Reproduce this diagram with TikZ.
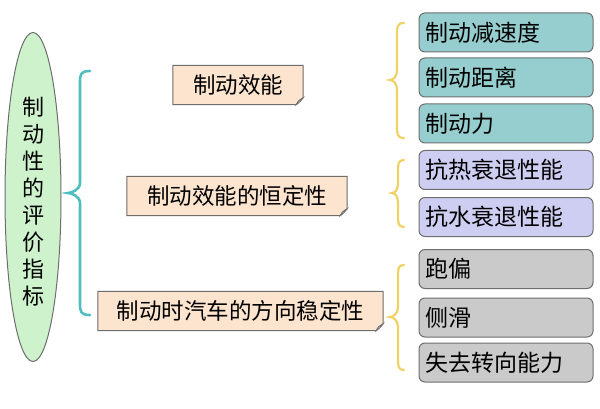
\documentclass[tikz,border=0pt]{standalone}
\usepackage{fontspec}
\setmainfont{Noto Sans CJK SC}
\usetikzlibrary{shapes.geometric}
\definecolor{peach}{RGB}{252,228,206}
\definecolor{tealbox}{RGB}{150,206,208}
\definecolor{lavbox}{RGB}{206,206,242}
\definecolor{graybox}{RGB}{202,202,202}
\definecolor{greenell}{RGB}{206,242,204}
\definecolor{tealbrace}{RGB}{80,190,190}
\definecolor{yelbrace}{RGB}{240,210,100}
\definecolor{edgegray}{RGB}{110,110,110}
\tikzset{
  rbox/.style={draw=edgegray, line width=1pt, rounded corners=6pt, minimum width=174pt, minimum height=39pt,
    text width=162pt, align=left, inner xsep=6pt, font=\fontsize{23}{26}\selectfont},
  lbox/.style={minimum height=39pt, inner sep=0pt, font=\fontsize{22.5}{26}\selectfont},
  lshape/.style={fill=peach, draw=edgegray, line width=1pt},
  bracetl/.style={draw=tealbrace, line width=2.6pt, line cap=round},
  braceyl/.style={draw=yelbrace, line width=2.2pt, line cap=round}
}
\newcommand{\curlybr}[7]{% style, xr, xm, xl, ytop, ymid, ybot
  \draw[#1] (#2,#5) .. controls (#3,#5) and (#3,#5+4) .. (#3,#5+12)
    -- (#3,#6-10) .. controls (#3,#6-3) and (#4+3,#6) .. (#4,#6)
    .. controls (#4+3,#6) and (#3,#6+3) .. (#3,#6+10)
    -- (#3,#7-12) .. controls (#3,#7-4) and (#3,#7) .. (#2,#7);}
\newcommand{\foldbox}[1]{%
  \draw[lshape] (#1.north west) -- (#1.north east) -- ([yshift=7pt]#1.south east)
     -- ([xshift=-7pt]#1.south east) -- (#1.south west) -- cycle;
  \draw[edgegray, line width=0.8pt, fill=peach!70!gray] ([yshift=7pt]#1.south east) .. controls ([xshift=-4pt,yshift=2pt]#1.south east) .. ([xshift=-7pt]#1.south east) .. controls ([xshift=-5pt,yshift=4pt]#1.south east) .. cycle;}
\begin{document}
\begin{tikzpicture}[x=1pt,y=-1pt]
\useasboundingbox[fill=white] (0,0) rectangle (600,409);
% ellipse
\node[ellipse, draw=edgegray, line width=1pt, fill=greenell, minimum width=56pt, minimum height=329pt, inner sep=0pt] (root) at (33,197) {};
\node[align=center, font=\fontsize{22}{27}\selectfont, inner sep=0pt] (roottext) at (33,202) {制\\动\\性\\的\\评\\价\\指\\标};
% teal brace
\curlybr{bracetl}{90}{80}{68}{71}{193}{315}
% left boxes
\node[lbox, minimum width=130pt] (b1) at (238,85) {};
\node[lbox, minimum width=220pt] (b2) at (237,196) {};
\node[lbox, minimum width=285pt] (b3) at (240.5,311) {};
\foldbox{b1}\foldbox{b2}\foldbox{b3}
\node[lbox] (t1) at (b1) {制动效能};
\node[lbox] (t2) at (b2) {制动效能的恒定性};
\node[lbox] (t3) at (b3) {制动时汽车的方向稳定性};
% yellow braces
\curlybr{braceyl}{404}{397}{390}{23}{80}{138}
\curlybr{braceyl}{404}{398}{392}{160}{193}{227}
\curlybr{braceyl}{404}{398}{390}{265}{317}{370}
% right boxes
\node[rbox, fill=tealbox] (r1) at (506,32.5) {制动减速度};
\node[rbox, fill=tealbox] (r2) at (506,77.5) {制动距离};
\node[rbox, fill=tealbox] (r3) at (506,123.5) {制动力};
\node[rbox, fill=lavbox] (r4) at (506,170) {抗热衰退性能};
\node[rbox, fill=lavbox] (r5) at (506,217) {抗水衰退性能};
\node[rbox, fill=graybox] (r6) at (506,269) {跑偏};
\node[rbox, fill=graybox] (r7) at (506,317.5) {侧滑};
\node[rbox, fill=graybox] (r8) at (506,362.5) {失去转向能力};
\end{tikzpicture}
\end{document}
